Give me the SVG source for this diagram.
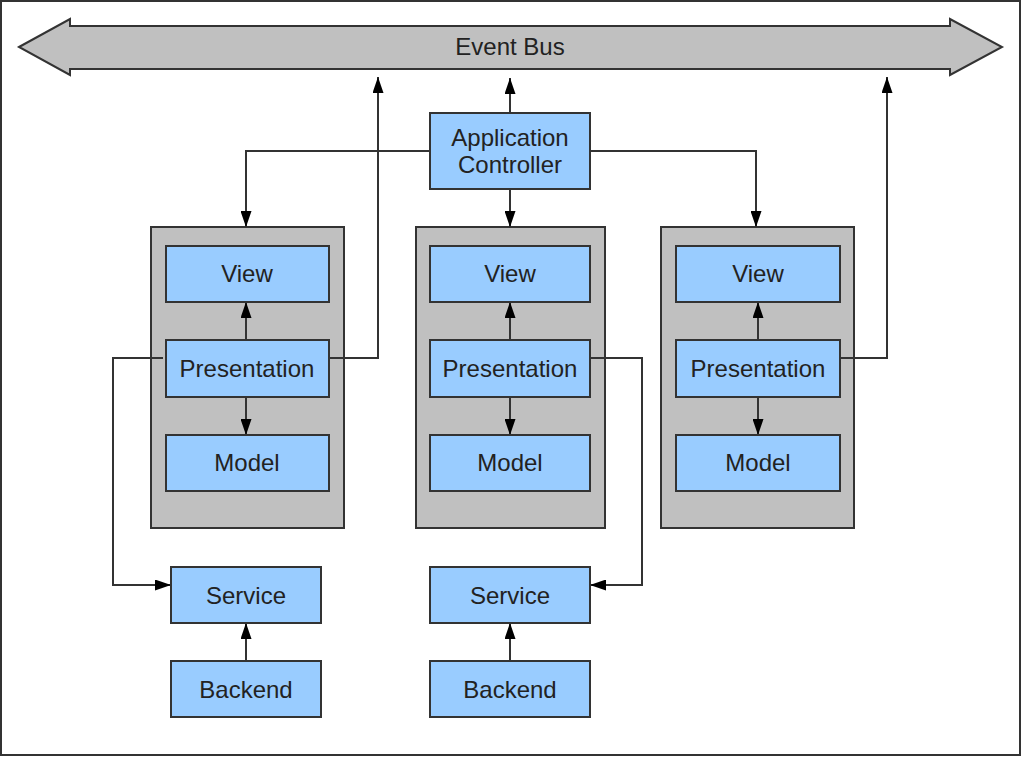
<svg xmlns="http://www.w3.org/2000/svg" width="1022" height="757" viewBox="0 0 1022 757">
<style>
.frame{fill:#ffffff;stroke:#333333;stroke-width:2}
.bus{fill:#c0c0c0;stroke:#333333;stroke-width:2;stroke-linejoin:miter}
.cont{fill:#c0c0c0;stroke:#333333;stroke-width:2}
.box{fill:#99ccff;stroke:#333333;stroke-width:2}
.lbl{font-family:"Liberation Sans",Arial,sans-serif;font-size:24px;fill:#222222;text-anchor:middle}
.con{fill:none;stroke:#333333;stroke-width:2}
</style>
<defs>
<marker id="arr" markerUnits="userSpaceOnUse" markerWidth="16" markerHeight="11" refX="16" refY="5.5" orient="auto" viewBox="0 0 16 11">
<path d="M0,0 L16,5.5 L0,11 z" fill="#000000"/>
</marker>
</defs>
<rect class="frame" x="1" y="1" width="1019" height="754"/>
<g id="event-bus">
<polygon class="bus" points="19,47 70,19 70,26 950,26 950,19 1002,47 950,75 950,69 70,69 70,75"/>
<text class="lbl" x="510" y="55">Event Bus</text>
</g>
<g id="container-left"><rect class="cont" x="151" y="227" width="193" height="301"/></g>
<g id="container-middle"><rect class="cont" x="416" y="227" width="189" height="301"/></g>
<g id="container-right"><rect class="cont" x="661" y="227" width="193" height="301"/></g>
<g id="connectors">
<path class="con" d="M510,113 L510,78" marker-end="url(#arr)"/>
<path class="con" d="M430,151 L246,151 L246,227" marker-end="url(#arr)"/>
<path class="con" d="M590,151 L756,151 L756,227" marker-end="url(#arr)"/>
<path class="con" d="M510,189 L510,227" marker-end="url(#arr)"/>
<path class="con" d="M246,340 L246,302" marker-end="url(#arr)"/>
<path class="con" d="M246,397 L246,435" marker-end="url(#arr)"/>
<path class="con" d="M510,340 L510,302" marker-end="url(#arr)"/>
<path class="con" d="M510,397 L510,435" marker-end="url(#arr)"/>
<path class="con" d="M758,340 L758,302" marker-end="url(#arr)"/>
<path class="con" d="M758,397 L758,435" marker-end="url(#arr)"/>
<path class="con" d="M329,358 L378,358 L378,77" marker-end="url(#arr)"/>
<path class="con" d="M840,358 L887,358 L887,77" marker-end="url(#arr)"/>
<path class="con" d="M163,358 L113,358 L113,585 L171,585" marker-end="url(#arr)"/>
<path class="con" d="M590,358 L642,358 L642,585 L590,585" marker-end="url(#arr)"/>
<path class="con" d="M246,661 L246,623" marker-end="url(#arr)"/>
<path class="con" d="M510,661 L510,623" marker-end="url(#arr)"/>
</g>
<g id="app-controller">
<rect class="box" x="430" y="113" width="160" height="76"/>
<text class="lbl" x="510" y="146">Application</text>
<text class="lbl" x="510" y="173">Controller</text>
</g>
<g id="view-left"><rect class="box" x="166" y="246" width="163" height="56"/><text class="lbl" x="247" y="282">View</text></g>
<g id="presentation-left"><rect class="box" x="166" y="340" width="163" height="57"/><text class="lbl" x="247" y="377">Presentation</text></g>
<g id="model-left"><rect class="box" x="166" y="435" width="163" height="56"/><text class="lbl" x="247" y="471">Model</text></g>
<g id="view-middle"><rect class="box" x="430" y="246" width="160" height="56"/><text class="lbl" x="510" y="282">View</text></g>
<g id="presentation-middle"><rect class="box" x="430" y="340" width="160" height="57"/><text class="lbl" x="510" y="377">Presentation</text></g>
<g id="model-middle"><rect class="box" x="430" y="435" width="160" height="56"/><text class="lbl" x="510" y="471">Model</text></g>
<g id="view-right"><rect class="box" x="676" y="246" width="164" height="56"/><text class="lbl" x="758" y="282">View</text></g>
<g id="presentation-right"><rect class="box" x="676" y="340" width="164" height="57"/><text class="lbl" x="758" y="377">Presentation</text></g>
<g id="model-right"><rect class="box" x="676" y="435" width="164" height="56"/><text class="lbl" x="758" y="471">Model</text></g>
<g id="service-left"><rect class="box" x="171" y="567" width="150" height="56"/><text class="lbl" x="246" y="604">Service</text></g>
<g id="backend-left"><rect class="box" x="171" y="661" width="150" height="56"/><text class="lbl" x="246" y="698">Backend</text></g>
<g id="service-middle"><rect class="box" x="430" y="567" width="160" height="56"/><text class="lbl" x="510" y="604">Service</text></g>
<g id="backend-middle"><rect class="box" x="430" y="661" width="160" height="56"/><text class="lbl" x="510" y="698">Backend</text></g>
</svg>
